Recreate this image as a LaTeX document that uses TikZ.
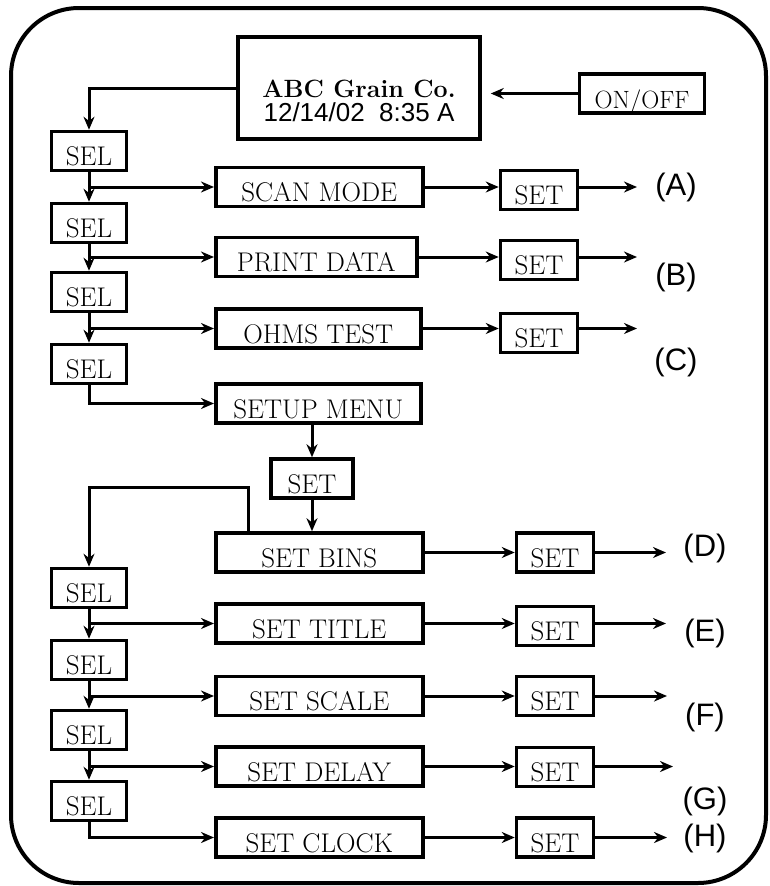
\documentclass[tikz,border=0pt]{standalone}
\usepackage{fontspec}
\newfontfamily\sansf{Liberation Sans}
\usetikzlibrary{arrows.meta,calc}

\tikzset{
  box/.style={draw, line width=3.5pt, inner sep=0pt, text height=34pt, text depth=5pt,
    font=\fontsize{27}{29}\selectfont},
  selbox/.style={box, minimum width=75pt},
  setbox/.style={box, minimum width=77pt},
  itembox/.style={box, minimum width=207pt, anchor=west},
  tag/.style={font=\sansf\fontsize{31}{33}\selectfont},
  arr/.style={-{Stealth[length=13pt,width=11pt]}, line width=3pt},
}

\begin{document}
\begin{tikzpicture}[x=1pt, y=-1pt]
\useasboundingbox (0,0) rectangle (770,886);
\draw[line width=4pt, rounded corners=68pt] (11,8) rectangle (766,883);

% display and power key
\node[draw, line width=3.5pt, inner sep=0pt, minimum width=242pt, minimum height=102pt,
  text height=46pt, text depth=0pt, font=\fontsize{25}{24}\selectfont] (disp) at (359,88)
  {\renewcommand\arraystretch{1}\begin{tabular}{@{}c@{}}
    \bfseries ABC Grain Co.\\[-2pt]
    \sansf\fontsize{26}{24}\selectfont 12/14/02\ \ 8:35 A
  \end{tabular}};
\node[box, minimum width=125pt, font=\fontsize{25}{27}\selectfont] (onoff) at (642,93.5) {ON/OFF};

% SEL keys
\foreach \n/\y in {1/151, 2/223, 3/292, 4/364, 5/588, 6/660, 7/730, 8/801}
  \node[selbox] (sel\n) at (89,\y) {SEL};

% menu entries
\node[itembox] (scan) at (214,187) {SCAN MODE};
\node[itembox, minimum width=201pt] (print) at (214,257) {PRINT DATA};
\node[itembox, minimum width=205pt] (ohms) at (214,328.5) {OHMS TEST};
\node[itembox, minimum width=205pt] (setup) at (214,403.5) {SETUP MENU};
\node[setbox, minimum width=82pt] (setm) at (312,478.5) {SET};
\node[itembox] (bins) at (214,552.5) {SET BINS};
\node[itembox] (title) at (214,623.5) {SET TITLE};
\node[itembox] (scale) at (214,696) {SET SCALE};
\node[itembox] (delay) at (214,766.5) {SET DELAY};
\node[itembox] (clock) at (214,837.5) {SET CLOCK};

% SET keys and results
\foreach \s/\x/\y in {A/539/190, B/539/260, C/539/333, D/555/552.5, E/555/626,
    F/555/696, G/555/767, H/555/837.5}
  \node[setbox] (set\s) at (\x,\y) {SET};
\foreach \s/\x/\y in {A/637/187, B/637/257, C/637/328.5, D/666/552.5, E/666/623.5,
    F/667/696, G/673/766.5, H/667/837.5}
  \coordinate (end\s) at (\x,\y);
\foreach \s/\x/\y in {A/676/187, B/676/277, C/676/362, D/705/548, E/705/633,
    F/705/717, G/705/801, H/705/838}
  \node[tag] (lab\s) at (\x,\y) {(\s)};

\draw[arr, shorten >=9pt] (onoff.west) -- (onoff.west -| disp.east);
\draw[arr] (disp.west) -| (sel1.north);
\foreach \a/\b in {1/2, 2/3, 3/4, 5/6, 6/7, 7/8}
  \draw[arr] (sel\a) -- (sel\b);
\foreach \a/\m in {1/scan, 2/print, 3/ohms, 5/title, 6/scale, 7/delay}
  \draw[arr] (sel\a.south |- \m) -- (\m.west);
\draw[arr] (sel4.south) |- (setup.west);
\draw[arr] (sel8.south) |- (clock.west);
\draw[arr] (setup.south -| setm) -- (setm.north);
\draw[arr] (setm.south) -- (setm |- bins.north);
\draw[arr] ([xshift=34pt]bins.north west) -- ++(0,-44) -| (sel5.north);

\foreach \m/\s in {scan/A, print/B, ohms/C, bins/D, title/E, scale/F, delay/G, clock/H} {
  \draw[arr] (\m.east) -- (\m.east -| set\s.west);
  \draw[arr] (set\s.east |- end\s) -- (end\s);
}
\end{tikzpicture}
\end{document}
